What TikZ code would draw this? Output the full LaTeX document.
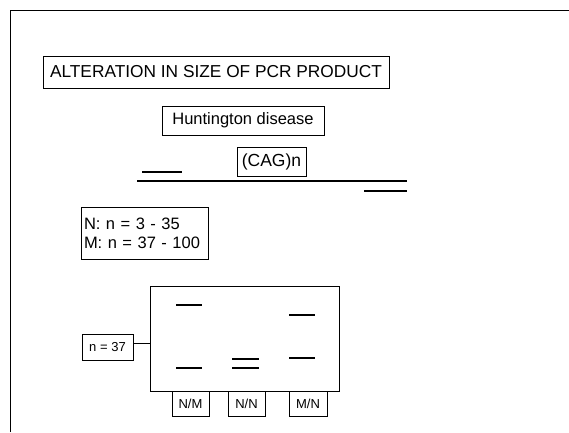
\documentclass[tikz,border=0pt]{standalone}
\usepackage{fontspec}
\setmainfont{Liberation Sans}
\usetikzlibrary{positioning}

\begin{document}
\begin{tikzpicture}[
  x=1pt,y=-1pt,
  box/.style={draw,line width=0.7pt,inner sep=0pt,align=center,font=\fontsize{16.5}{19}\selectfont},
  lane/.style={box,minimum width=37pt,minimum height=25pt,font=\fontsize{13}{15}\selectfont},
  band/.style={line width=1.4pt},
  dna/.style={line width=1.2pt}
]
\useasboundingbox (0,0) rectangle (569,432);
% frame
\draw[line width=1pt] (10,432) -- (10,10) -- (569,10);
% titles
\node[box,minimum width=346pt,minimum height=32pt,font=\fontsize{17.3}{19}\selectfont] (title) at (216,72) {ALTERATION IN SIZE OF PCR PRODUCT};
\node[box,minimum width=162pt,minimum height=29pt] (hd) at (243,120.5) {Huntington disease};
% gene with repeat and primers
\node[box,minimum width=69pt,minimum height=29pt,font=\fontsize{17.5}{19}\selectfont] (cag) at (271.5,161.5) {(CAG)n};
\coordinate (gl) at (137,181);
\coordinate (gr) at (407,181);
\draw[dna] (gl) -- (gr);
\draw[dna] (142,172) -- (182,172);
\draw[dna] (364,191) -- (gr |- 0,191);
% repeat ranges
\node[box,align=left,minimum width=127pt,minimum height=52pt,text width=121pt] (range) at (144.5,233)
  {N: n = 3 - 35\\M: n = 37 - 100};
% gel
\node[draw,line width=0.8pt,minimum width=189pt,minimum height=105pt,inner sep=0pt] (gel) at (244.5,338.5) {};
\node[box,minimum width=51pt,minimum height=26pt,font=\fontsize{13}{15}\selectfont] (n37) at (107.5,347.5) {n = 37};
\draw[line width=0.8pt] ([yshift=4.5pt]n37.east) -- ([yshift=4.5pt]n37.east -| gel.west);
\node[lane,anchor=north] (nm) at (190.5,391) {N/M};
\node[lane,anchor=north] (nn) at (246.5,391) {N/N};
\node[lane,anchor=north,minimum width=38pt] (mn) at (308,391) {M/N};
% bands
\draw[band] (176,305) -- (202,305);
\draw[band] (176,368) -- (202,368);
\draw[band] (232,359) -- (259,359);
\draw[band] (232,368) -- (259,368);
\draw[band] (289,315) -- (315,315);
\draw[band] (289,358) -- (315,358);
\end{tikzpicture}
\end{document}
